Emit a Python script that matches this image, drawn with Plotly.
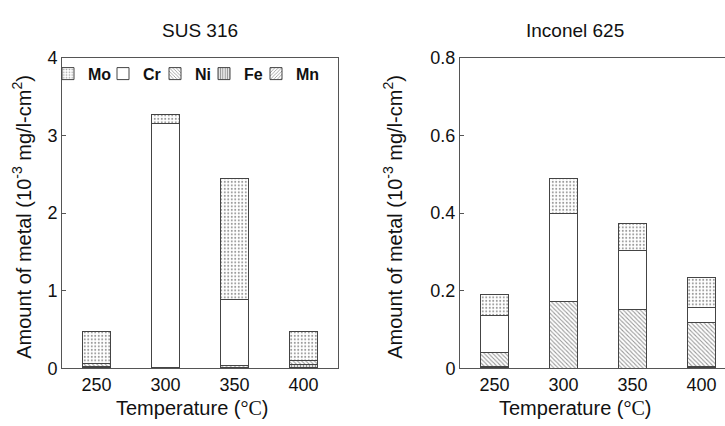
import plotly.graph_objects as go

temps = ["250", "300", "350", "400"]
metals = ["Mn", "Fe", "Ni", "Cr", "Mo"]  # stacking order bottom -> top

sus_mn = [0.01, 0.0, 0.0, 0.01]
sus_fe = [0.02, 0.0, 0.01, 0.045]
sus_ni = [0.035, 0.01, 0.03, 0.045]
sus_cr = [0.0, 3.14, 0.84, 0.0]
sus_mo = [0.415, 0.12, 1.57, 0.37]

inc_mn = [0.002, 0.0, 0.0, 0.002]
inc_fe = [0.003, 0.0, 0.0, 0.002]
inc_ni = [0.036, 0.172, 0.151, 0.115]
inc_cr = [0.094, 0.228, 0.153, 0.037]
inc_mo = [0.055, 0.09, 0.069, 0.078]

sus_ticks = [0, 1, 2, 3, 4]
inc_ticks = [0, 0.2, 0.4, 0.6, 0.8]

W, H = 725, 426
FONT = "Liberation Sans, Arial, sans-serif"
LINE = "#555555"

patterns = {
    "Mo": dict(shape=".", size=3.5, solidity=0.25, fgcolor="#333333", bgcolor="#ffffff", fillmode="overlay"),
    "Cr": dict(shape="", fgcolor="#222222", bgcolor="#ffffff"),
    "Ni": dict(shape="\\", size=3, solidity=0.35, fgcolor="#333333", bgcolor="#ffffff", fillmode="overlay"),
    "Fe": dict(shape="|", size=3, solidity=0.5, fgcolor="#222222", bgcolor="#ffffff", fillmode="overlay"),
    "Mn": dict(shape="/", size=3, solidity=0.35, fgcolor="#333333", bgcolor="#ffffff", fillmode="overlay"),
}

sus = {"Mn": sus_mn, "Fe": sus_fe, "Ni": sus_ni, "Cr": sus_cr, "Mo": sus_mo}
inc = {"Mn": inc_mn, "Fe": inc_fe, "Ni": inc_ni, "Cr": inc_cr, "Mo": inc_mo}

px = lambda v: v / W
py = lambda v: 1 - v / H

# legend entry anchor x (px) for each metal
legend_ids = {"Mo": "legend", "Cr": "legend2", "Ni": "legend3", "Fe": "legend4", "Mn": "legend5"}
legend_x = {"Mo": 48, "Cr": 103, "Ni": 155, "Fe": 204, "Mn": 256}

fig = go.Figure()
for m in metals:
    fig.add_trace(go.Bar(
        x=temps, y=sus[m], name=m, xaxis="x", yaxis="y", width=0.41,
        marker=dict(color="#ffffff", pattern=patterns[m], line=dict(color="#444444", width=1)),
        showlegend=True, legend=legend_ids[m],
    ))
for m in metals:
    fig.add_trace(go.Bar(
        x=temps, y=inc[m], name=m, xaxis="x2", yaxis="y2", width=0.41,
        marker=dict(color="#ffffff", pattern=patterns[m], line=dict(color="#444444", width=1)),
        showlegend=False,
    ))

x1 = [px(62), px(338)]
x2 = [px(460), 1.0]
ydom = [py(376), py(50)]

axis_common = dict(showline=True, linecolor=LINE, linewidth=1, showgrid=False, zeroline=False,
                   tickfont=dict(family=FONT, size=18, color="#111111"))

legends = {}
for m, lid in legend_ids.items():
    legends[lid] = dict(orientation="h", x=px(legend_x[m]), y=py(49), xanchor="left", yanchor="top",
                        bgcolor="rgba(0,0,0,0)", font=dict(family=FONT, size=16, weight="bold", color="#111111"),
                        itemwidth=30)

fig.update_layout(
    width=W, height=H, margin=dict(l=0, r=0, t=0, b=0),
    paper_bgcolor="white", plot_bgcolor="white",
    barmode="stack",
    font=dict(family=FONT, color="#111111"),
    xaxis=dict(domain=x1, anchor="y", type="category", range=[-0.5, 3.5], mirror=True, ticks="", **axis_common),
    yaxis=dict(domain=ydom, anchor="x", range=[0, 4], tickvals=sus_ticks, mirror=True,
               ticks="inside", ticklen=4, tickcolor=LINE, **axis_common),
    xaxis2=dict(domain=x2, anchor="y2", type="category", range=[-0.5, 3.341], mirror=True, ticks="", **axis_common),
    yaxis2=dict(domain=ydom, anchor="x2", range=[0, 0.8], tickvals=inc_ticks, ticktext=["0", "0.2", "0.4", "0.6", "0.8"],
                mirror=False, ticks="inside", ticklen=4, tickcolor=LINE, **axis_common),
    bargap=0.59,
    **legends,
)

ytitle = "Amount of metal (10<sup>-3</sup> mg/l-cm<sup>2</sup>)"
xtitle = "Temperature (<span style=\"font-family:'Liberation Serif'\">°C</span>)"
ann = [
    dict(text="SUS 316", x=px(200), y=py(22), size=19),
    dict(text="Inconel 625", x=px(575), y=py(22), size=19),
    dict(text=xtitle, x=px(192), y=py(418), size=20),
    dict(text=xtitle, x=px(575), y=py(418), size=20),
]
for a in ann:
    fig.add_annotation(text=a["text"], x=a["x"], y=a["y"], xref="paper", yref="paper",
                       xanchor="center", yanchor="middle", showarrow=False,
                       font=dict(family=FONT, size=a["size"], color="#111111"))
for xc in [22, 393]:
    fig.add_annotation(text=ytitle, x=px(xc), y=py(217), xref="paper", yref="paper",
                       xanchor="center", yanchor="middle", showarrow=False, textangle=-90,
                       font=dict(family=FONT, size=20, color="#111111"))

fig.write_html("out.html")
